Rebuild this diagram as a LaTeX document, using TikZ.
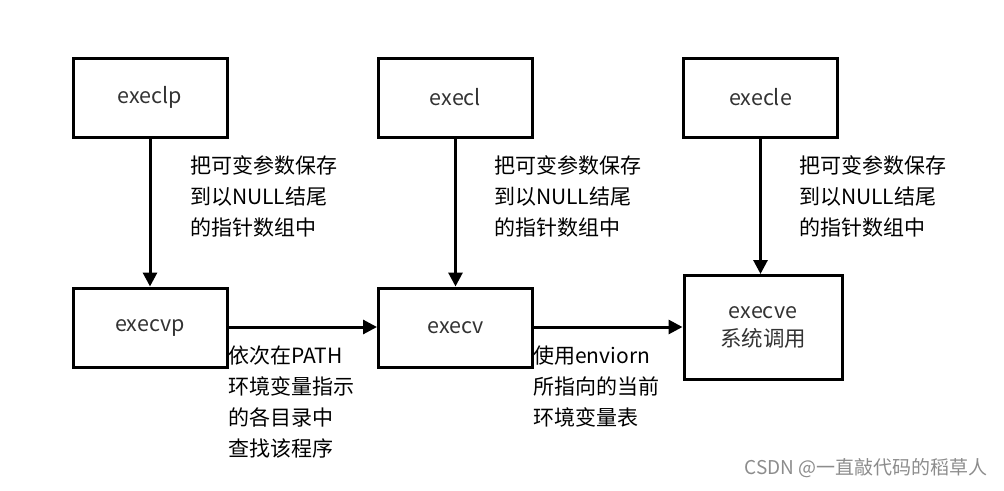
\documentclass[tikz,border=0pt]{standalone}
\usepackage{fontspec}
\setmainfont{Noto Sans CJK SC}
\usetikzlibrary{arrows.meta}
\begin{document}
\begin{tikzpicture}[x=1pt,y=-1pt,
  box/.style={draw=black,line width=3pt,minimum width=154pt,minimum height=79pt,inner sep=0pt,font=\fontsize{21.5}{30}\selectfont,text=black!80,align=center},
  lbl/.style={anchor=north west,inner sep=0pt,align=left,font=\fontsize{21}{31}\selectfont},
  arr/.style={line width=3pt,-{Triangle[length=14pt,width=14pt]}}]
\useasboundingbox (0,0) rectangle (1004,490);
\node[box] (execlp) at (150,97.5) {execlp};
\node[box] (execl) at (455.5,97.5) {execl};
\node[box] (execle) at (760.5,97.5) {execle};
\node[box] (execvp) at (150,327.5) {execvp};
\node[box] (execv) at (455.5,327.5) {execv};
\node[box,minimum width=158pt,minimum height=104pt] (execve) at (763,327.5) {execve\\[-2pt]系统调用};
\draw[arr] (execlp) -- (execvp);
\draw[arr] (execl) -- (execv);
\draw[arr] (execle.south) -- (execle.south |- execve.north);
\draw[arr] (execvp.east |- 0,327) -- (execv.west |- 0,327);
\draw[arr] (execv.east |- 0,327) -- (execve.west |- 0,327);
\node[lbl] (l1) at (190,155) {把可变参数保存\\到以NULL结尾\\的指针数组中};
\node[lbl] (l2) at (494,155) {把可变参数保存\\到以NULL结尾\\的指针数组中};
\node[lbl] (l3) at (799,155) {把可变参数保存\\到以NULL结尾\\的指针数组中};
\node[lbl] (l4) at (228,346) {依次在PATH\\环境变量指示\\的各目录中\\查找该程序};
\node[lbl] (l5) at (533,346) {使用enviorn\\所指向的当前\\环境变量表};
\node[anchor=east,inner sep=0pt,text=black!45,font=\fontsize{19}{22}\selectfont] (wm) at (988,468) {CSDN @一直敲代码的稻草人};
\end{tikzpicture}
\end{document}
